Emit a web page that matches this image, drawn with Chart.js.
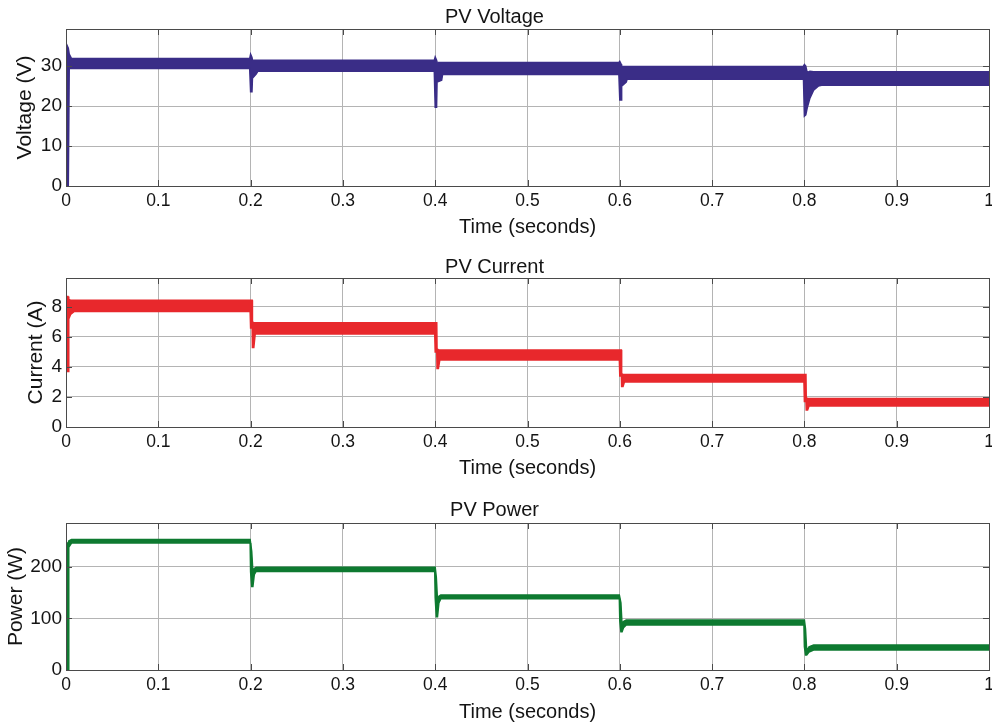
<!DOCTYPE html>
<html>
<head>
<meta charset="utf-8">
<script src="https://cdn.jsdelivr.net/npm/chart.js@4.4.1/dist/chart.umd.min.js"></script>
<style>
  html, body { margin: 0; padding: 0; background: #ffffff; }
  body { width: 992px; height: 725px; position: relative; overflow: hidden; }
  .panel { position: absolute; left: 0; width: 992px; }
  canvas { display: block; }
</style>
</head>
<body>
<div class="panel" id="p1" style="top:0px;height:240px"><canvas id="c1" width="992" height="240"></canvas></div>
<div class="panel" id="p2" style="top:240px;height:241px"><canvas id="c2" width="992" height="241"></canvas></div>
<div class="panel" id="p3" style="top:481px;height:244px"><canvas id="c3" width="992" height="244"></canvas></div>
<script>
// ---------- data ----------
const xTicks = [0, 0.1, 0.2, 0.3, 0.4, 0.5, 0.6, 0.7, 0.8, 0.9, 1];

// PV Voltage: upper and lower envelope of the ripple band (V)
const timeV  = [0, 0.0025, 0.0035, 0.006, 0.199, 0.2, 0.2015, 0.202, 0.206, 0.208, 0.399, 0.4, 0.4015, 0.402, 0.407, 0.408, 0.599, 0.6, 0.6015, 0.602, 0.607, 0.608, 0.799, 0.8, 0.8015, 0.803, 0.806, 0.81, 0.815, 0.82, 1];
const voltHi = [35.8, 34.5, 33.0, 31.9, 31.9, 33.0, 32.2, 31.5, 31.5, 31.5, 31.5, 32.3, 31.5, 31.0, 30.9, 30.9, 30.9, 31.2, 30.5, 29.9, 29.9, 29.9, 30.0, 30.4, 30.0, 28.4, 28.7, 28.6, 28.6, 28.6, 28.6];
const voltLo = [0, 0, 29.5, 29.4, 29.4, 23.6, 23.6, 27.0, 28.0, 28.75, 28.75, 19.7, 19.7, 26.0, 26.5, 27.9, 27.9, 21.5, 21.5, 25.0, 26.0, 26.75, 26.7, 17.5, 17.8, 19.5, 22.0, 24.0, 25.0, 25.25, 25.25];
const voltTicks = [0, 10, 20, 30];

// PV Current (A)
const timeI  = [0, 0.0022, 0.003, 0.005, 0.009, 0.1995, 0.2, 0.2017, 0.202, 0.2035, 0.205, 0.3995, 0.4, 0.4017, 0.402, 0.4035, 0.405, 0.5995, 0.6, 0.6017, 0.602, 0.6035, 0.605, 0.7995, 0.8, 0.8017, 0.802, 0.8035, 0.805, 1];
const currHi = [8.7, 8.7, 8.5, 8.45, 8.45, 8.45, 8.45, 8.45, 7.0, 6.95, 6.95, 6.95, 6.95, 6.95, 5.2, 5.15, 5.13, 5.13, 5.13, 5.13, 3.55, 3.5, 3.5, 3.5, 3.5, 3.5, 1.95, 1.9, 1.9, 1.9];
const currLo = [3.7, 3.7, 7.2, 7.5, 7.7, 7.7, 6.6, 6.6, 5.3, 5.3, 6.2, 6.2, 5.0, 5.0, 3.9, 3.9, 4.47, 4.47, 3.4, 3.4, 2.7, 2.7, 3.0, 3.0, 1.7, 1.7, 1.13, 1.13, 1.4, 1.4];
const currTicks = [0, 2, 4, 6, 8];

// PV Power (W)
const timeP = [0, 0.0022, 0.003, 0.006, 0.1995, 0.2, 0.2012, 0.2025, 0.204, 0.206, 0.3995, 0.4, 0.4012, 0.4025, 0.404, 0.406, 0.5995, 0.6, 0.6012, 0.6025, 0.604, 0.607, 0.7995, 0.8, 0.8012, 0.8025, 0.805, 0.81, 1];
const powHi = [240, 247, 250, 253, 253, 253, 230, 190, 197, 199.4, 199.4, 199.4, 180, 135, 143, 145.6, 145.6, 145.6, 130, 85, 94, 97, 97, 97, 80, 37, 45, 48.5, 48.5];
const powLo = [0, 0, 238, 246, 246, 190, 162, 162, 185, 191, 191, 140, 103, 103, 130, 137.9, 137.9, 95, 74.4, 74.4, 82, 87.4, 87.4, 45, 29, 29, 35, 38.8, 38.8];
const powTicks = [0, 100, 200];

// ---------- styling ----------
const FONT = "'Liberation Sans', Arial, Helvetica, sans-serif";
const GRID = '#b4b4b4';
const BOX  = '#4a4a4a';
const TXT  = '#141414';

const boxPlugin = {
  id: 'matlabBox',
  afterDatasetsDraw(chart) {
    const {ctx, chartArea: a, scales} = chart;
    ctx.save();
    ctx.strokeStyle = BOX;
    ctx.lineWidth = 1;
    ctx.beginPath();
    scales.x.ticks.forEach(t => {
      const px = Math.round(scales.x.getPixelForValue(t.value)) + 0.5;
      ctx.moveTo(px, a.bottom); ctx.lineTo(px, a.bottom - 6);
      ctx.moveTo(px, a.top);    ctx.lineTo(px, a.top + 6);
    });
    scales.y.ticks.forEach(t => {
      const py = Math.round(scales.y.getPixelForValue(t.value)) + 0.5;
      ctx.moveTo(a.left, py);  ctx.lineTo(a.left + 6, py);
      ctx.moveTo(a.right, py); ctx.lineTo(a.right - 6, py);
    });
    ctx.stroke();
    ctx.strokeRect(Math.round(a.left) + 0.5, Math.round(a.top) + 0.5,
                   Math.round(a.right - a.left), Math.round(a.bottom - a.top));
    ctx.restore();
  }
};

function makeChart(id, cfg) {
  const pts = (ts, vs) => ts.map((t, i) => ({x: t, y: vs[i]}));
  return new Chart(document.getElementById(id), {
    type: 'line',
    data: {
      datasets: [
        { data: pts(cfg.t, cfg.lo), borderColor: cfg.color, borderWidth: 1.5, pointRadius: 0, fill: false, tension: 0 },
        { data: pts(cfg.t, cfg.hi), borderColor: cfg.color, backgroundColor: cfg.color, borderWidth: 1.5, pointRadius: 0, fill: '-1', tension: 0 }
      ]
    },
    options: {
      responsive: false,
      animation: false,
      events: [],
      layout: { padding: { left: 0, right: 3, top: 0, bottom: 0 } },
      plugins: {
        legend: { display: false },
        tooltip: { enabled: false },
        title: {
          display: true, text: cfg.title, color: TXT,
          font: { family: FONT, size: 20, weight: 'normal', lineHeight: 1 },
          padding: { top: cfg.titleTop, bottom: cfg.titleBottom }
        }
      },
      scales: {
        x: {
          type: 'linear', min: 0, max: 1,
          afterBuildTicks: s => { s.ticks = xTicks.map(v => ({ value: v })); },
          afterFit: s => { s.height = cfg.xh; s.paddingLeft = 0; s.paddingRight = 0; },
          grid: { color: GRID, lineWidth: 1, drawTicks: false },
          border: { display: false },
          ticks: { color: TXT, padding: 5, maxRotation: 0, autoSkip: false,
                   font: { family: FONT, size: 17.5 },
                   callback: v => String(v) },
          title: { display: true, text: 'Time (seconds)', color: TXT,
                   font: { family: FONT, size: 20, lineHeight: 1 },
                   padding: { top: 0, bottom: 3 } }
        },
        y: {
          type: 'linear', min: 0, max: cfg.ymax,
          afterBuildTicks: s => { s.ticks = cfg.yticks.map(v => ({ value: v })); },
          afterFit: s => { s.width = 66; },
          grid: { color: GRID, lineWidth: 1, drawTicks: false },
          border: { display: false },
          ticks: { color: TXT, padding: 4, font: { family: FONT, size: 19 },
                   callback: v => String(v) },
          title: { display: true, text: cfg.ytitle, color: TXT,
                   font: { family: FONT, size: 21, lineHeight: 1 },
                   padding: { top: cfg.ytPad, bottom: 0 } }
        }
      }
    },
    plugins: [boxPlugin]
  });
}

makeChart('c1', { t: timeV, hi: voltHi, lo: voltLo, color: '#3a2d87', title: 'PV Voltage',
  ytitle: 'Voltage (V)', ymax: 39.3, yticks: voltTicks, xh: 54, titleTop: 7, titleBottom: 2, ytPad: 15 });
makeChart('c2', { t: timeI, hi: currHi, lo: currLo, color: '#e8282c', title: 'PV Current',
  ytitle: 'Current (A)', ymax: 9.93, yticks: currTicks, xh: 54, titleTop: 17, titleBottom: 1, ytPad: 25.5 });
makeChart('c3', { t: timeP, hi: powHi, lo: powLo, color: '#0e7a30', title: 'PV Power',
  ytitle: 'Power (W)', ymax: 285, yticks: powTicks, xh: 55, titleTop: 19, titleBottom: 3, ytPad: 6 });
</script>
</body>
</html>
